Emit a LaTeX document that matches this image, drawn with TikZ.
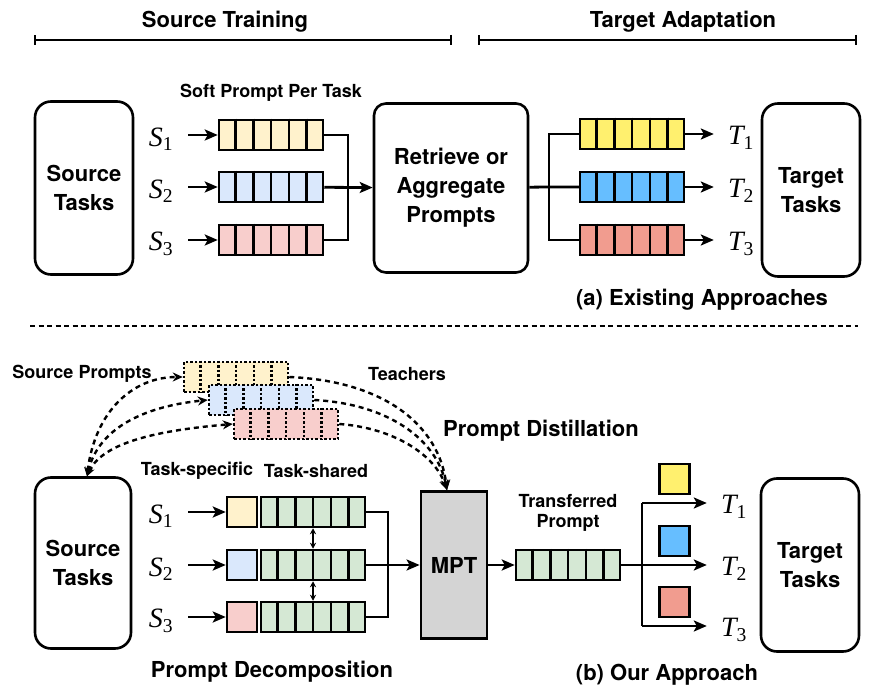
\documentclass[tikz,border=0pt]{standalone}
\usepackage{fontspec}
\setmainfont{TeX Gyre Heros}
\newfontfamily\varfont{Liberation Serif}
\usetikzlibrary{arrows.meta, calc}

\definecolor{softY}{HTML}{FFF2CC}
\definecolor{softB}{HTML}{DAE8FC}
\definecolor{softR}{HTML}{F8CECC}
\definecolor{shared}{HTML}{D5E8D4}
\definecolor{tgtY}{HTML}{FFF06E}
\definecolor{tgtB}{HTML}{66BEFF}
\definecolor{tgtR}{HTML}{F19C8F}
\definecolor{mptGray}{HTML}{D4D4D4}

\begin{document}
\begin{tikzpicture}[x=1pt, y=-1pt,
  task/.style={draw, line width=2.6pt, rounded corners=16pt, align=center, inner sep=0pt, font=\fontsize{22}{29}\selectfont\bfseries},
  title/.style={font=\fontsize{22}{26}\selectfont\bfseries},
  note/.style={font=\fontsize{18}{20}\selectfont\bfseries, align=center},
  var/.style={font=\varfont\fontsize{28}{30}\selectfont\itshape, minimum width=54pt, inner sep=0pt},
  strip/.style={draw, line width=2.5pt, minimum width=104pt, minimum height=30pt, inner sep=0pt},
  dstrip/.style={strip, dash pattern=on 2.5pt off 2pt},
  cell/.style={draw, line width=2.5pt, minimum width=30pt, minimum height=30pt, inner sep=0pt},
  wire/.style={line width=2.8pt},
  arr/.style={wire, -{Stealth[length=13pt,width=11pt,inset=3pt]}},
  dbl/.style={line width=1.5pt, {Stealth[length=6pt,width=6pt]}-{Stealth[length=6pt,width=6pt]}},
  dcurve/.style={line width=2.4pt, dash pattern=on 5pt off 4pt},
  span/.style={line width=2pt, {Bar[width=10pt]}-{Bar[width=10pt]}}]
\useasboundingbox (0,0) rectangle (878,700);

% Stage headings
\node[title] (hdSrc) at (225,22) {Source Training};
\node[title] (hdTgt) at (683,22) {Target Adaptation};
\draw[span] (34,40) -- (452,40);
\draw[span] (478,40) -- (857,40);

% (a) Existing approaches
\node[task, minimum width=98pt, minimum height=173pt] (srcA) at (84,188) {Source\\Tasks};
\node[note] (softLbl) at (271,93) {Soft Prompt Per Task};
\foreach \k/\y/\c in {1/135/softY, 2/187/softB, 3/240/softR} {
    \node[var] (sA\k) at (161,\y+4) {S\textsubscript{\upshape\k}};
    \node[strip, fill=\c] (pA\k) at (271,\y) {};
    \foreach \i in {1,...,5}
        \draw[line width=2.5pt] ($(pA\k.north west)!\i/6!(pA\k.north east)$) -- ($(pA\k.south west)!\i/6!(pA\k.south east)$);
    \draw[arr] (pA\k -| sA\k.east) -- (pA\k);
}
\node[task, minimum width=154pt, minimum height=169pt, rounded corners=12pt] (retr) at (451,188) {Retrieve or\\Aggregate\\Prompts};
\coordinate (jA) at (348,187);
\draw[wire] (pA1.east) -| (jA) |- (pA3.east);
\draw[arr] (pA2) -- (retr);
\foreach \k/\y/\c in {1/134/tgtY, 2/187/tgtB, 3/240/tgtR} {
    \node[strip, fill=\c] (qA\k) at (632,\y) {};
    \foreach \i in {1,...,5}
        \draw[line width=2.5pt] ($(qA\k.north west)!\i/6!(qA\k.north east)$) -- ($(qA\k.south west)!\i/6!(qA\k.south east)$);
    \node[var] (tA\k) at (741,\y+4) {T\textsubscript{\upshape\k}};
    \draw[arr] (qA\k) -- (qA\k -| tA\k.west);
}
\coordinate (jB) at (549,187);
\draw[wire] (retr) -- (jB) -- (qA2);
\draw[wire] (qA1.west) -| (jB) |- (qA3.west);
\node[task, minimum width=98pt, minimum height=173pt] (tgtA) at (811,190) {Target\\Tasks};
\node[title] (capA) at (702,300) {(a) Existing Approaches};

\draw[line width=2.4pt, dash pattern=on 5pt off 3.5pt] (30,326) -- (858,326);

% (b) Our approach
\node[note] (srcPLbl) at (82,374) {Source Prompts};
\node[note] (teachLbl) at (407,374) {Teachers};
\foreach \k/\x/\y/\c in {1/236/377/softY, 2/261/400/softB, 3/286/424/softR} {
    \node[dstrip, fill=\c] (dp\k) at (\x,\y) {};
    \foreach \i in {1,...,5}
        \draw[line width=2.5pt, dash pattern=on 2.5pt off 2pt] ($(dp\k.north west)!\i/6!(dp\k.north east)$) -- ($(dp\k.south west)!\i/6!(dp\k.south east)$);
}
\node[title] (distLbl) at (541,431) {Prompt Distillation};
\node[task, minimum width=96pt, minimum height=171pt] (srcB) at (83,563) {Source\\Tasks};
\node[note] (specLbl) at (197,471) {Task-specific};
\node[note] (sharLbl) at (316,471) {Task-shared};
\foreach \k/\y/\c in {1/512/softY, 2/565/softB, 3/617/softR} {
    \node[var] (sB\k) at (161,\y+4) {S\textsubscript{\upshape\k}};
    \node[cell, fill=\c] (ts\k) at (242,\y) {};
    \node[strip, fill=shared] (sh\k) at (313,\y) {};
    \foreach \i in {1,...,5}
        \draw[line width=2.5pt] ($(sh\k.north west)!\i/6!(sh\k.north east)$) -- ($(sh\k.south west)!\i/6!(sh\k.south east)$);
    \draw[arr] (ts\k -| sB\k.east) -- (ts\k);
}
\draw[dbl] (sh1) -- (sh2);
\draw[dbl] (sh2) -- (sh3);
\node[draw, fill=mptGray, line width=2.8pt, minimum width=66pt, minimum height=147pt, title] (mpt) at (454,565) {MPT};
\coordinate (jC) at (388,565);
\draw[wire] (sh1.east) -| (jC) |- (sh3.east);
\draw[arr] (sh2) -- (mpt);

% distillation curves
\draw[dcurve, {Stealth[length=9pt,width=8pt]}-{Stealth[length=10pt,width=9pt]}] ([xshift=4pt]srcB.north) .. controls +(8,-65) and +(-50,0) .. (dp1.west);
\draw[dcurve, {Stealth[length=9pt,width=8pt]}-{Stealth[length=10pt,width=9pt]}] ([xshift=4pt]srcB.north) .. controls +(12,-50) and +(-60,6) .. (dp2.west);
\draw[dcurve, {Stealth[length=9pt,width=8pt]}-{Stealth[length=10pt,width=9pt]}] ([xshift=4pt]srcB.north) .. controls +(16,-35) and +(-70,6) .. (dp3.west);
\draw[dcurve, -{Stealth[length=10pt,width=9pt]}] (dp1.east) .. controls +(95,4) and +(-8,-65) .. ([xshift=-7pt]mpt.north);
\draw[dcurve, -{Stealth[length=10pt,width=9pt]}] (dp2.east) .. controls +(75,4) and +(-10,-50) .. ([xshift=-7pt]mpt.north);
\draw[dcurve, -{Stealth[length=10pt,width=9pt]}] (dp3.east) .. controls +(55,4) and +(-12,-35) .. ([xshift=-7pt]mpt.north);

\node[strip, fill=shared] (tp) at (568,565) {};
\foreach \i in {1,...,5}
    \draw[line width=2.5pt] ($(tp.north west)!\i/6!(tp.north east)$) -- ($(tp.south west)!\i/6!(tp.south east)$);
\node[note] (tpLbl) at (568,513) {Transferred\\Prompt};
\draw[arr] (mpt) -- (tp);
\foreach \k/\y/\c in {1/503/tgtY, 2/565/tgtB, 3/626/tgtR} {
    \coordinate (bB\k) at (642,\y);
    \node[cell, fill=\c] (sq\k) at (674.5,\y-24) {};
    \node[var] (tB\k) at (734,\y+4) {T\textsubscript{\upshape\k}};
    \draw[arr] (bB\k) -- (bB\k -| tB\k.west);
}
\draw[wire] (tp) -- (bB2);
\draw[wire] (bB1) -- (bB3);
\node[task, minimum width=98pt, minimum height=173pt] (tgtB) at (810,565) {Target\\Tasks};
\node[title] (decLbl) at (272,672) {Prompt Decomposition};
\node[title] (capB) at (667,675) {(b) Our Approach};

\end{tikzpicture}
\end{document}
